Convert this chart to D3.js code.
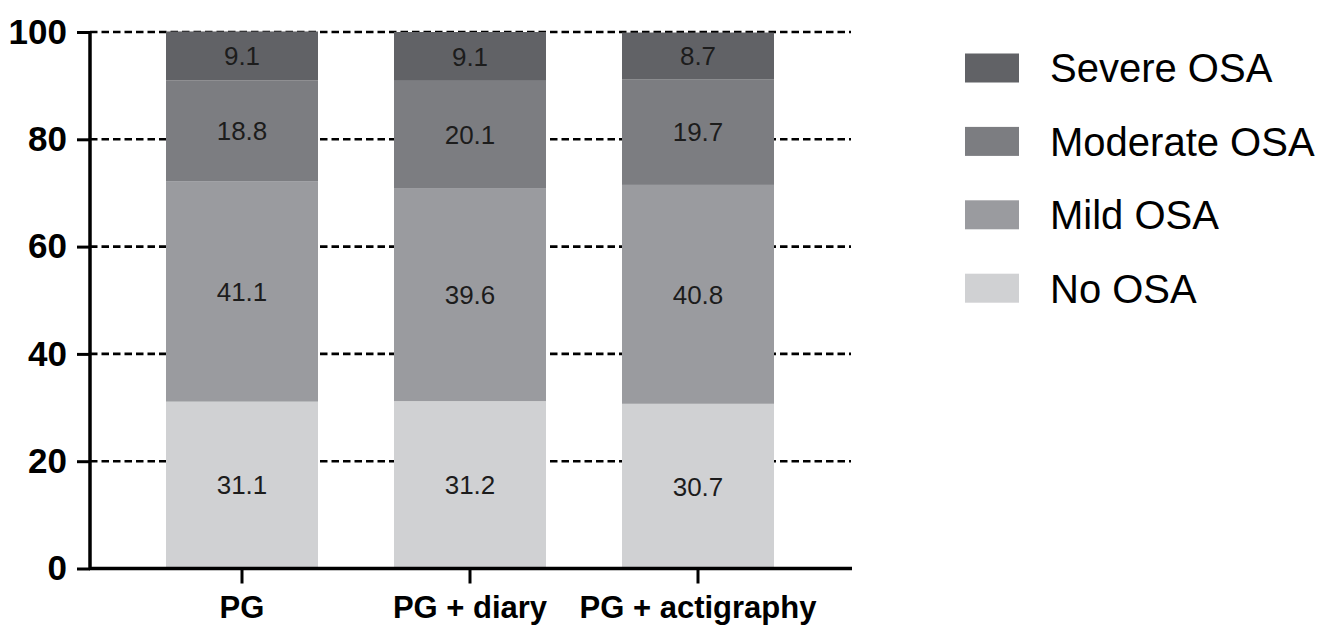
<!DOCTYPE html>
<html>
<head>
<meta charset="utf-8">
<script src="https://cdn.jsdelivr.net/npm/d3@7"></script>
<style>
  body { margin: 0; background: #fff; }
  svg { display: block; font-family: "Liberation Sans", Arial, sans-serif; }
</style>
</head>
<body>
<script>
// data
const categories = ["PG", "PG + diary", "PG + actigraphy"];
const seriesNames = ["No OSA", "Mild OSA", "Moderate OSA", "Severe OSA"];
const noOsa = [31.1, 31.2, 30.7];
const mildOsa = [41.1, 39.6, 40.8];
const moderateOsa = [18.8, 20.1, 19.7];
const severeOsa = [9.1, 9.1, 8.7];
const yTicks = [0, 20, 40, 60, 80, 100];

const colors = ["#d0d1d3", "#9a9b9f", "#7c7d81", "#616266"];

const width = 1333, height = 628;

const svg = d3.select("body").append("svg")
    .attr("width", width)
    .attr("height", height);

const x = d3.scaleBand()
    .domain(categories)
    .range([128, 812])
    .paddingInner(1 / 3)
    .paddingOuter(1 / 6);

const y = d3.scaleLinear()
    .domain([0, 100])
    .range([568.5, 32]);

// stacked table
const table = categories.map((c, i) => ({
    cat: c,
    "No OSA": noOsa[i],
    "Mild OSA": mildOsa[i],
    "Moderate OSA": moderateOsa[i],
    "Severe OSA": severeOsa[i]
}));
const stack = d3.stack().keys(seriesNames)(table);

// dashed gridlines
svg.append("g")
    .selectAll("line")
    .data(yTicks.filter(d => d > 0))
    .join("line")
    .attr("x1", 90)
    .attr("x2", 851)
    .attr("y1", d => y(d))
    .attr("y2", d => y(d))
    .attr("stroke", "#000")
    .attr("stroke-width", 2.6)
    .attr("stroke-dasharray", "7.5,4");

// bars
const layers = svg.append("g")
    .selectAll("g")
    .data(stack)
    .join("g")
    .attr("fill", (d, i) => colors[i]);

layers.selectAll("rect")
    .data(d => d)
    .join("rect")
    .attr("x", d => x(d.data.cat))
    .attr("width", x.bandwidth())
    .attr("y", d => y(d[1]))
    .attr("height", d => y(d[0]) - y(d[1]));

// value labels
layers.selectAll("text")
    .data(d => d.map(v => ({ v, key: d.key })))
    .join("text")
    .attr("x", d => x(d.v.data.cat) + x.bandwidth() / 2)
    .attr("y", d => y((d.v[0] + d.v[1]) / 2))
    .attr("dy", "0.36em")
    .attr("text-anchor", "middle")
    .attr("font-size", 26)
    .attr("fill", "#1c1c1c")
    .text(d => d.v.data[d.key].toFixed(1));

// y axis
const yAxis = svg.append("g")
    .attr("transform", "translate(90,0)")
    .call(d3.axisLeft(y).tickValues(yTicks).tickSize(13).tickPadding(10));
yAxis.select(".domain").attr("stroke-width", 3.5).attr("d", `M0,${y(0)}V${y(100)}`);
yAxis.selectAll(".tick line").attr("stroke-width", 3);
yAxis.selectAll(".tick text")
    .attr("font-size", 35)
    .attr("font-weight", "bold")
    .attr("font-family", "'Liberation Sans', Arial, sans-serif")
    .attr("fill", "#000");

// x axis
const xAxis = svg.append("g")
    .attr("transform", `translate(0,${y(0)})`)
    .call(d3.axisBottom(x).tickSize(15).tickPadding(12));
xAxis.select(".domain").attr("stroke-width", 3.5).attr("d", "M89,0H852");
xAxis.selectAll(".tick line").attr("stroke-width", 3);
xAxis.selectAll(".tick text")
    .attr("font-size", 31)
    .attr("font-weight", "bold")
    .attr("font-family", "'Liberation Sans', Arial, sans-serif")
    .attr("fill", "#000");

// legend, severe on top
const legendItems = seriesNames.map((s, i) => ({ name: s, color: colors[i] })).reverse();
const legend = svg.append("g")
    .selectAll("g")
    .data(legendItems)
    .join("g")
    .attr("transform", (d, i) => `translate(965,${68 + i * 73.4})`);

legend.append("rect")
    .attr("x", 0)
    .attr("y", -14.5)
    .attr("width", 54)
    .attr("height", 29)
    .attr("fill", d => d.color);

legend.append("text")
    .attr("x", 85)
    .attr("y", 0)
    .attr("dy", "0.36em")
    .attr("font-size", 40)
    .attr("fill", "#000")
    .text(d => d.name);
</script>
</body>
</html>
